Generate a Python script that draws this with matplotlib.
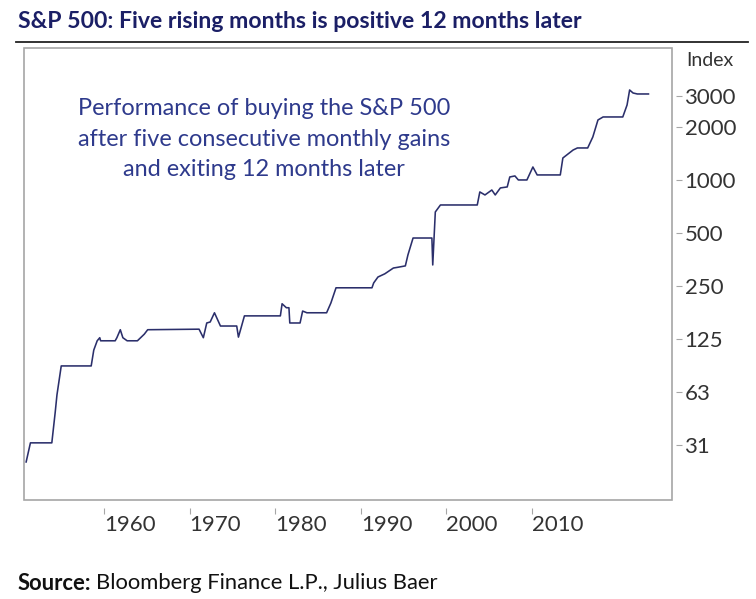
#!/usr/bin/env python3
# S&P 500 tras cinco meses seguidos al alza: indice de la estrategia (escala log)

import matplotlib
matplotlib.use("Agg")
import matplotlib.pyplot as plt
from matplotlib.patches import Rectangle
from matplotlib.lines import Line2D

# Datos (anio decimal, valor del indice)
anios = [1950.9, 1951.4, 1953.9, 1954.3, 1954.5, 1955.0, 1958.5, 1958.8, 1959.2, 1959.5,
         1959.6, 1961.3, 1961.5, 1961.9, 1962.2, 1962.7, 1963.9, 1964.7, 1965.1, 1971.1,
         1971.6, 1972.0, 1972.4, 1972.9, 1973.6, 1975.5, 1975.7, 1976.0, 1976.4, 1980.6,
         1980.8, 1981.3, 1981.6, 1981.7, 1982.9, 1983.2, 1983.7, 1986.0, 1986.5, 1987.1,
         1991.3, 1991.5, 1992.0, 1992.8, 1993.8, 1994.3, 1995.2, 1995.5, 1996.1, 1998.3,
         1998.4, 1998.7, 1999.3, 2003.6, 2003.9, 2004.5, 2005.3, 2005.7, 2006.3, 2007.1,
         2007.4, 2008.0, 2008.4, 2009.4, 2010.1, 2010.6, 2013.3, 2013.6, 2014.8, 2015.3,
         2016.5, 2017.1, 2017.7, 2018.3, 2020.6, 2021.1, 2021.4, 2021.8, 2022.3, 2023.6]
indice = [25.0, 32.1, 32.1, 48.1, 60.1, 87.8, 87.8, 108, 122, 127,
          122, 122, 127, 141, 127, 122, 122, 133, 141, 142,
          127, 154, 156, 176, 148, 148, 128, 144, 169, 169,
          198, 188, 188, 154, 154, 180, 176, 176, 200, 244,
          244, 260, 281, 293, 316, 319, 325, 375, 468, 468,
          329, 658, 721, 721, 855, 822, 877, 822, 901, 913,
          1040, 1054, 1000, 1000, 1185, 1068, 1068, 1333, 1480, 1520,
          1520, 1755, 2192, 2280, 2280, 2667, 3245, 3120, 3080, 3080]

ticks_x = [1960, 1970, 1980, 1990, 2000, 2010]
ticks_y = [31.25, 62.5, 125, 250, 500, 1000, 2000, 3000]
etiquetas_y = ["31", "63", "125", "250", "500", "1000", "2000", "3000"]

titulo = "S&P 500: Five rising months is positive 12 months later"
nota = ("Performance of buying the S&P 500\n"
        "after five consecutive monthly gains\n"
        "and exiting 12 months later")

# Estilo
fuente = "Lato"
color_titulo = "#1b1f66"
color_linea = "#2b2f6b"
color_nota = "#2e3a8c"
color_marco = "#a6a6a6"
color_texto = "#333333"

plt.rcParams["font.family"] = [fuente, "DejaVu Sans"]

fig = plt.figure(figsize=(7.56, 5.99), dpi=100)
ax = fig.add_axes([24 / 756, 1 - 500 / 599, (672 - 24) / 756, (500 - 48) / 599])

ax.plot(anios, indice, color=color_linea, lw=1.15)

ax.set_yscale("log")
ax.set_xlim(1950.65, 2026.35)
ax.set_ylim(15.2, 5620)

# marco propio; los ejes van separados del marco
for s in ax.spines.values():
    s.set_visible(False)
ax.add_patch(Rectangle((0, 0), 1, 1, transform=ax.transAxes, fill=False,
                       edgecolor=color_marco, lw=1.2, clip_on=False, zorder=5))
ax.spines["bottom"].set_position(("outward", 6))
ax.spines["right"].set_position(("outward", 3))

ax.yaxis.tick_right()
ax.set_yticks(ticks_y)
ax.set_yticklabels(etiquetas_y)
ax.minorticks_off()
ax.tick_params(axis="y", which="both", length=4, width=0.8, color=color_marco,
               labelsize=16, labelcolor=color_texto, pad=2)

ax.set_xticks(ticks_x)
ax.set_xticklabels([str(a) for a in ticks_x])
ax.tick_params(axis="x", length=4, width=0.8, color=color_marco,
               labelsize=16, labelcolor=color_texto, pad=1)
for lab in ax.get_xticklabels():
    lab.set_horizontalalignment("left")

fig.text(686 / 756, 1 - 60 / 599, "Index", fontsize=14, color=color_texto,
         ha="left", va="center")

# titulo y regla
fig.text(18 / 756, 1 - 21 / 599, titulo, fontsize=16.6, fontweight="bold",
         color=color_titulo, ha="left", va="center")
fig.add_artist(Line2D([16 / 756, 748 / 756], [1 - 42 / 599, 1 - 42 / 599],
                      color="#222222", lw=1.3, transform=fig.transFigure))

ax.text(264 / 756, 1 - 139 / 599, nota, transform=fig.transFigure, fontsize=16.9,
        color=color_nota, ha="center", va="center", linespacing=1.55)

# fuente: "Source:" en negrita y el resto justo detras
t1 = fig.text(18 / 756, 1 - 583 / 599, "Source:", fontsize=15.8, fontweight="bold",
              color="#111111", ha="left", va="center")
fig.canvas.draw()
bb = t1.get_window_extent(renderer=fig.canvas.get_renderer())
x_sig = (bb.x1 + 5) / fig.bbox.width
fig.text(x_sig, 1 - 583 / 599, "Bloomberg Finance L.P., Julius Baer",
         fontsize=15.8, color="#111111", ha="left", va="center")

fig.savefig("out.png", dpi=100)
